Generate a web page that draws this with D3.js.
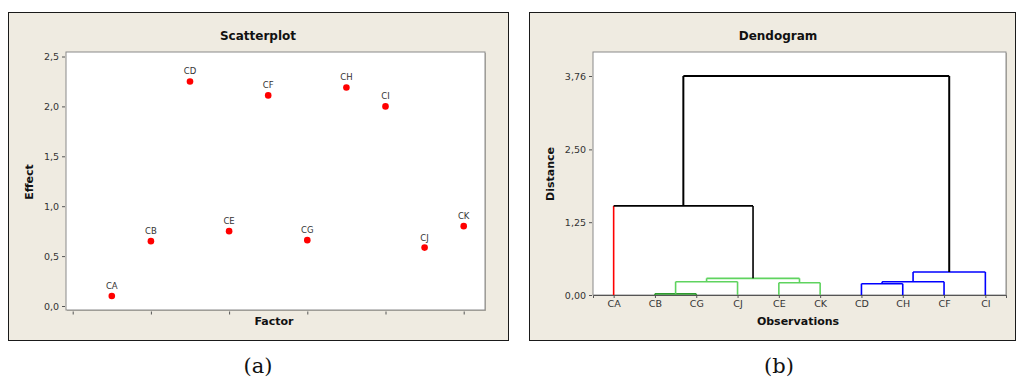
<!DOCTYPE html>
<html><head><meta charset="utf-8">
<script src="https://cdn.jsdelivr.net/npm/d3@7"></script>
<style>
body{margin:0;background:#fff;}
svg{display:block;}
</style></head>
<body>
<svg id="c" width="1016" height="378" font-family="'DejaVu Sans',Verdana,sans-serif"></svg>
<script>
// ---- Scatterplot data ----
const factors = ["CA","CB","CD","CE","CF","CG","CH","CI","CJ","CK"];
const effects = [0.10,0.65,2.25,0.75,2.11,0.66,2.19,2.00,0.585,0.80];
const effectTicks = [0,0.5,1.0,1.5,2.0,2.5];
const factorTicks = [0,2,4,6,8,10];

// ---- Dendrogram data ----
const leaves = ["CA","CB","CG","CJ","CE","CK","CD","CH","CF","CI"];
// merges: left node, right node, height, colour group; nodes are leaf names or merge indices "#i"
const mergeLeft   = ["CB","#0","CE","#1","CA","CD","#5","#6","#4"];
const mergeRight  = ["CG","CJ","CK","#2","#3","CH","CF","CI","#7"];
const mergeHeight = [0.02,0.228,0.21,0.286,1.53,0.194,0.228,0.395,3.76];
const mergeGroup  = ["dk","g","g","g","k","b","b","b","k"];
const leafGroup   = ["r","dk","dk","g","g","g","b","b","b","b"];
const distTicks = [0,1.25,2.50,3.76];

const fmt = (d,n)=>d.toFixed(n).replace(".",",");
const colors = {r:"#ff0000",g:"#5fd35f",dk:"#2e9a2e",b:"#0000ff",k:"#000000"};
const svg = d3.select("#c");
const panelBg = "#efebe1";
const sans = "'DejaVu Sans',Verdana,sans-serif";
const serif = "'DejaVu Serif','Liberation Serif',serif";

// ===== Panel (a) =====
svg.append("rect").attr("x",8.5).attr("y",12.5).attr("width",500).attr("height",328)
  .attr("fill",panelBg).attr("stroke","#1a1a1a").attr("stroke-width",1);
const pa = {l:66,t:52,r:485,b:310};
svg.append("rect").attr("x",pa.l+1).attr("y",pa.t+1).attr("width",pa.r-pa.l).attr("height",pa.b-pa.t).attr("fill","#b5b0a5");
svg.append("rect").attr("x",pa.l).attr("y",pa.t).attr("width",pa.r-pa.l).attr("height",pa.b-pa.t)
  .attr("fill","#fff").attr("stroke","#8a8a8a").attr("stroke-width",1);
const xa = d3.scaleLinear().domain([0,10]).range([72.7,463.7]);
const ya = d3.scaleLinear().domain([0,2.5]).range([306,56.5]);
const gA = svg.append("g");
gA.append("g").attr("transform",`translate(${pa.l-1},0)`)
  .call(d3.axisLeft(ya).tickValues(effectTicks).tickSize(3).tickPadding(3).tickFormat(d=>fmt(d,1)))
  .attr("font-family",sans)
  .call(g=>g.select(".domain").remove())
  .call(g=>g.selectAll("line").attr("stroke","#555"))
  .call(g=>g.selectAll("text").attr("font-size",9.5).attr("fill","#333"));
gA.append("g").attr("transform",`translate(0,${pa.b+1.5})`)
  .call(d3.axisBottom(xa).tickValues(factorTicks).tickSize(3).tickFormat(""))
  .call(g=>g.select(".domain").remove())
  .call(g=>g.selectAll("line").attr("stroke","#555"));
gA.selectAll("circle.pt").data(factors).join("circle").attr("class","pt")
  .attr("cx",(d,i)=>xa(i+1)).attr("cy",(d,i)=>ya(effects[i])).attr("r",3.3).attr("fill","#ff0000");
gA.selectAll("text.lbl").data(factors).join("text").attr("class","lbl")
  .attr("x",(d,i)=>xa(i+1)).attr("y",(d,i)=>ya(effects[i])-7).attr("text-anchor","middle")
  .attr("font-size",8.5).attr("fill","#333").text(d=>d);
svg.append("text").attr("x",258).attr("y",40).attr("text-anchor","middle").attr("font-weight","bold")
  .attr("font-size",12).attr("fill","#111").text("Scatterplot");
svg.append("text").attr("x",274).attr("y",325).attr("text-anchor","middle").attr("font-weight","bold")
  .attr("font-size",11).attr("fill","#111").text("Factor");
svg.append("text").attr("transform","translate(33,182) rotate(-90)").attr("text-anchor","middle").attr("font-weight","bold")
  .attr("font-size",11).attr("fill","#111").text("Effect");
svg.append("text").attr("x",258).attr("y",373).attr("text-anchor","middle")
  .attr("font-family",serif).attr("font-size",21).attr("fill","#111").text("(a)");

// ===== Panel (b) =====
svg.append("rect").attr("x",529.5).attr("y",12.5).attr("width",486).attr("height",328)
  .attr("fill",panelBg).attr("stroke","#1a1a1a").attr("stroke-width",1);
const pb = {l:593,t:52,r:1006,b:295};
svg.append("rect").attr("x",pb.l+1).attr("y",pb.t+1).attr("width",pb.r-pb.l).attr("height",pb.b-pb.t).attr("fill","#b5b0a5");
svg.append("rect").attr("x",pb.l).attr("y",pb.t).attr("width",pb.r-pb.l).attr("height",pb.b-pb.t)
  .attr("fill","#fff").attr("stroke","#8a8a8a").attr("stroke-width",1);
const xb = d3.scalePoint().domain(leaves).range([pb.l,pb.r]).padding(0.5);
const yb = d3.scaleLinear().domain([0,3.76]).range([295,76]);
const gB = svg.append("g");
gB.append("g").attr("transform",`translate(${pb.l-1},0)`)
  .call(d3.axisLeft(yb).tickValues(distTicks).tickSize(3).tickPadding(3).tickFormat(d=>fmt(d,2)))
  .attr("font-family",sans)
  .call(g=>g.select(".domain").remove())
  .call(g=>g.selectAll("line").attr("stroke","#555"))
  .call(g=>g.selectAll("text").attr("font-size",9.5).attr("fill","#333"));
gB.append("g").attr("transform",`translate(0,${pb.b})`)
  .call(d3.axisBottom(xb).tickSize(3).tickPadding(2))
  .attr("font-family",sans)
  .call(g=>g.select(".domain").attr("stroke","#555"))
  .call(g=>g.selectAll("line").attr("stroke","#555"))
  .call(g=>g.selectAll("text").attr("font-size",9.5).attr("fill","#333"));
// compute node positions
const pos = {};
leaves.forEach((l,i)=>{pos[l]={x:xb(l),h:0,grp:leafGroup[i],leaf:true};});
const links = [];
mergeLeft.forEach((a,i)=>{
  const L = pos[a], R = pos[mergeRight[i]], h = mergeHeight[i];
  links.push({L,R,h,mc:mergeGroup[i]});
  pos["#"+i] = {x:(L.x+R.x)/2,h,grp:mergeGroup[i],leaf:false};
});
const lg = gB.append("g").attr("fill","none");
links.forEach(k=>{
  const sw = k.h>3 ? 2 : 1.6;
  const vc = n => colors[n.leaf ? n.grp : k.mc];
  lg.append("path").attr("d",`M${k.L.x},${yb(k.L.h)}V${yb(k.h)}`).attr("stroke",vc(k.L)).attr("stroke-width",sw);
  lg.append("path").attr("d",`M${k.R.x},${yb(k.R.h)}V${yb(k.h)}`).attr("stroke",vc(k.R)).attr("stroke-width",sw);
  lg.append("path").attr("d",`M${k.L.x},${yb(k.h)}H${k.R.x}`).attr("stroke",colors[k.mc]).attr("stroke-width",sw);
});
svg.append("text").attr("x",778).attr("y",40).attr("text-anchor","middle").attr("font-weight","bold")
  .attr("font-size",12).attr("fill","#111").text("Dendogram");
svg.append("text").attr("x",798).attr("y",325).attr("text-anchor","middle").attr("font-weight","bold")
  .attr("font-size",11).attr("fill","#111").text("Observations");
svg.append("text").attr("transform","translate(554,174) rotate(-90)").attr("text-anchor","middle").attr("font-weight","bold")
  .attr("font-size",11).attr("fill","#111").text("Distance");
svg.append("text").attr("x",779).attr("y",373).attr("text-anchor","middle")
  .attr("font-family",serif).attr("font-size",21).attr("fill","#111").text("(b)");
</script>
</body></html>
